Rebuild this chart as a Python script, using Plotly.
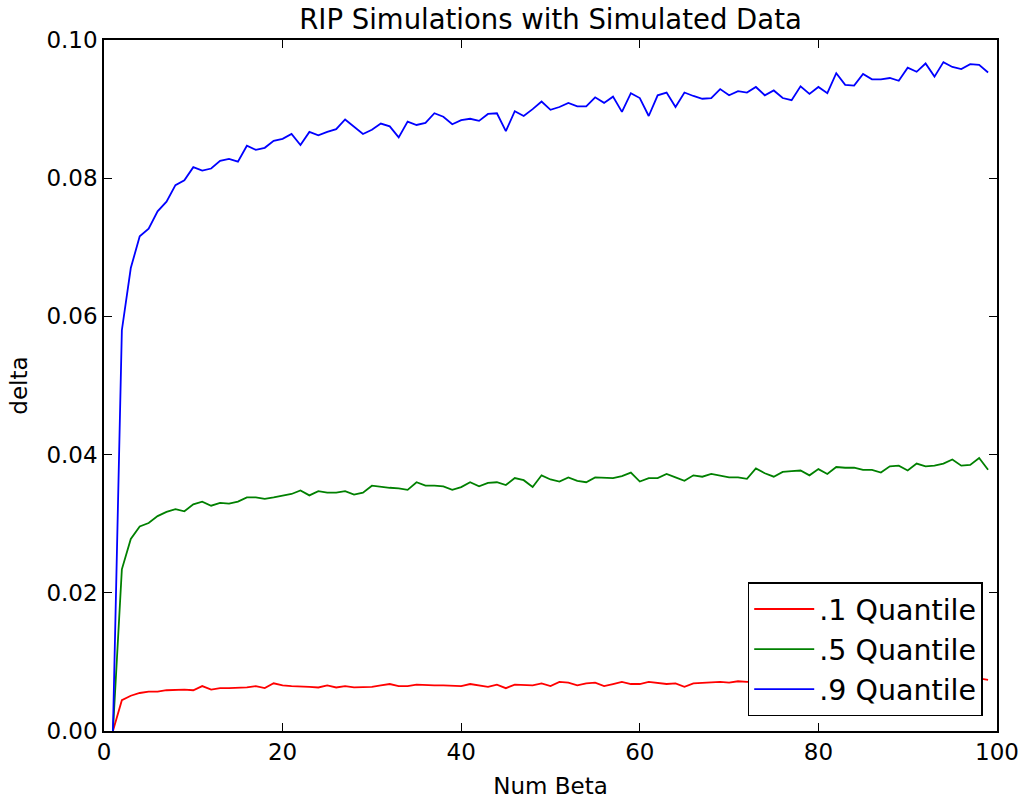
import plotly.graph_objects as go

# Number of beta coefficients (x axis)
num_beta = list(range(1, 100))

# .1 quantile of delta
q10 = [
    0.0, 0.00445, 0.0051, 0.0055, 0.0057, 0.0057, 0.0059, 0.0060, 0.0060, 0.0059,
    0.0065, 0.0060, 0.0062, 0.0062, 0.0062, 0.0063, 0.0065, 0.0062, 0.0069, 0.0066,
    0.0065, 0.0065, 0.0064, 0.0063, 0.0066, 0.0063, 0.0065, 0.0063, 0.0063, 0.0064,
    0.0066, 0.0068, 0.0065, 0.0065, 0.0067, 0.0066, 0.0066, 0.0066, 0.0066, 0.0065,
    0.0068, 0.0066, 0.0064, 0.0067, 0.0062, 0.0067, 0.0066, 0.0066, 0.0069, 0.0065,
    0.0071, 0.0070, 0.0066, 0.0069, 0.0070, 0.0065, 0.0068, 0.0071, 0.0068, 0.0068,
    0.0071, 0.0069, 0.0068, 0.0069, 0.0064, 0.0069, 0.0070, 0.0070, 0.0071, 0.0070,
    0.0072, 0.0071, 0.0072, 0.0071, 0.0073, 0.0072, 0.0071, 0.0073, 0.0072, 0.0074,
    0.0072, 0.0073, 0.0074, 0.0073, 0.0072, 0.0074, 0.0073, 0.0074, 0.0075, 0.0073,
    0.0074, 0.0075, 0.0074, 0.0075, 0.0074, 0.0076, 0.0075, 0.0076, 0.0074,
]

# .5 quantile of delta
q50 = [
    0.0, 0.0234, 0.0278, 0.0296, 0.0301, 0.0311, 0.0317, 0.0321, 0.0318, 0.0328,
    0.0332, 0.0326, 0.0330, 0.0329, 0.0332, 0.0338, 0.0338, 0.0336, 0.0338, 0.0341,
    0.0343, 0.0348, 0.0341, 0.0347, 0.0345, 0.0345, 0.0347, 0.0342, 0.0345, 0.0355,
    0.0353, 0.0352, 0.0351, 0.0349, 0.0360, 0.0355, 0.0355, 0.0354, 0.0349, 0.0353,
    0.0360, 0.0354, 0.0359, 0.0360, 0.0356, 0.0366, 0.0363, 0.0353, 0.0370, 0.0364,
    0.0361, 0.0367, 0.0362, 0.0360, 0.0367, 0.0367, 0.0366, 0.0369, 0.0374, 0.0361,
    0.0366, 0.0366, 0.0372, 0.0367, 0.0362, 0.0370, 0.0368, 0.0372, 0.0369, 0.0367,
    0.0367, 0.0365, 0.0380, 0.0373, 0.0368, 0.0375, 0.0376, 0.0377, 0.0370, 0.0379,
    0.0372, 0.0382, 0.0381, 0.0381, 0.0378, 0.0378, 0.0374, 0.0383, 0.0384, 0.0377,
    0.0387, 0.0383, 0.0384, 0.0387, 0.0393, 0.0384, 0.0385, 0.0395, 0.0378,
]

# .9 quantile of delta
q90 = [
    0.0, 0.0580, 0.0670, 0.0716, 0.0727, 0.0752, 0.0766, 0.0790, 0.0797, 0.0816,
    0.0811, 0.0814, 0.0825, 0.0828, 0.0824, 0.0847, 0.0841, 0.0844, 0.0854, 0.0857,
    0.0864, 0.0848, 0.0867, 0.0862, 0.0867, 0.0871, 0.0885, 0.0875, 0.0864, 0.0870,
    0.0879, 0.0875, 0.0859, 0.0882, 0.0877, 0.0880, 0.0894, 0.0889, 0.0878, 0.0884,
    0.0886, 0.0883, 0.0893, 0.0894, 0.0868, 0.0897, 0.0890, 0.0900, 0.0911, 0.0899,
    0.0903, 0.0909, 0.0904, 0.0904, 0.0917, 0.0909, 0.0918, 0.0896, 0.0923, 0.0916,
    0.0890, 0.0920, 0.0924, 0.0903, 0.0924, 0.0919, 0.0915, 0.0916, 0.0929, 0.0920,
    0.0926, 0.0924, 0.0932, 0.0920, 0.0927, 0.0916, 0.0913, 0.0933, 0.0922, 0.0932,
    0.0923, 0.0952, 0.0935, 0.0934, 0.0951, 0.0943, 0.0943, 0.0945, 0.0941, 0.0960,
    0.0954, 0.0966, 0.0947, 0.0968, 0.0961, 0.0958, 0.0965, 0.0964, 0.0953,
]

series_names = [".1 Quantile", ".5 Quantile", ".9 Quantile"]
series_colors = ["#ff0000", "#008000", "#0000ff"]

x_ticks = [0, 20, 40, 60, 80, 100]
y_ticks = [0.00, 0.02, 0.04, 0.06, 0.08, 0.10]

FONT = "DejaVu Sans"

fig = go.Figure()
for name, color, values in zip(series_names, series_colors, [q10, q50, q90]):
    fig.add_trace(go.Scatter(
        x=num_beta, y=values, mode="lines", name=name,
        line=dict(color=color, width=1.8),
    ))

axis_common = dict(
    showline=True, linecolor="black", linewidth=1.5, mirror="ticks",
    ticks="inside", ticklen=8, tickwidth=1, tickcolor="black",
    showgrid=False, zeroline=False, automargin=False,
    tickfont=dict(family=FONT, size=23, color="black"),
)

fig.update_layout(
    width=1024, height=801,
    margin=dict(l=104, r=27, t=40, b=70),
    paper_bgcolor="white", plot_bgcolor="white",
    font=dict(family=FONT, color="black"),
    title=dict(
        text="RIP Simulations with Simulated Data",
        font=dict(family=FONT, size=27.5, color="black"),
        x=0.5, xref="paper", xanchor="center",
        y=1 - 19 / 801, yref="container", yanchor="middle",
    ),
    xaxis=dict(
        range=[0, 100], tickvals=x_ticks,
        ticktext=[str(v) for v in x_ticks],
        title=dict(text="Num Beta", font=dict(family=FONT, size=23), standoff=14),
        **axis_common,
    ),
    yaxis=dict(
        range=[0, 0.10], tickvals=y_ticks,
        ticktext=[f"{v:.2f}" for v in y_ticks],
        title=dict(text="delta", font=dict(family=FONT, size=23), standoff=12),
        **axis_common,
    ),
    legend=dict(
        x=0.984, y=0.021, xanchor="right", yanchor="bottom",
        bgcolor="white", bordercolor="black", borderwidth=1.5,
        font=dict(family=FONT, size=28.5, color="black"),
        tracegroupgap=0, itemwidth=60,
    ),
)

fig.write_html("out.html")
